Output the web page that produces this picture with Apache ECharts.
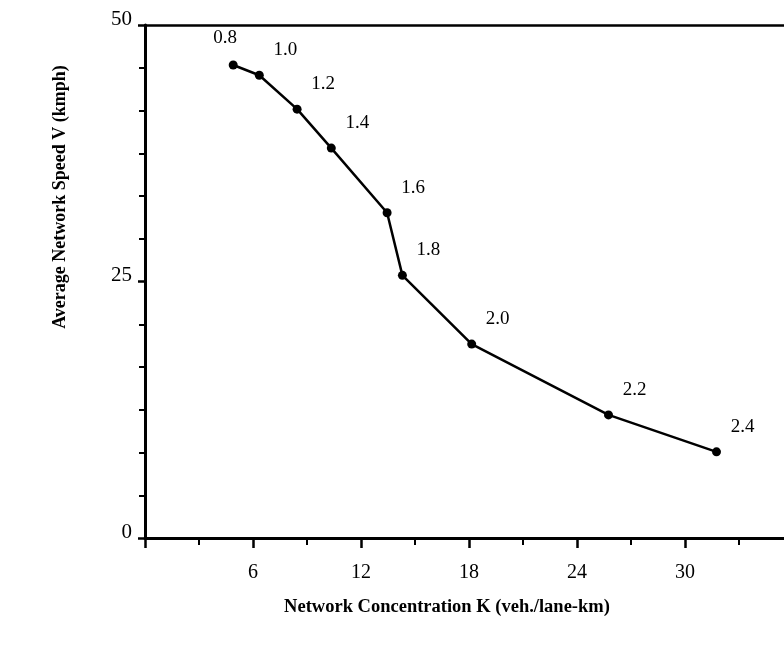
<!DOCTYPE html>
<html>
<head>
<meta charset="utf-8">
<script src="https://cdn.jsdelivr.net/npm/echarts@6/dist/echarts.min.js"></script>
<style>
html,body{margin:0;padding:0;background:#fff;}
#chart{width:784px;height:645px;}
</style>
</head>
<body>
<div id="chart"></div>
<script>
// Data
const concentrationK = [4.9, 6.35, 8.45, 10.35, 13.45, 14.3, 18.15, 25.75, 31.75];
const speedV = [46.1, 45.1, 41.8, 38.0, 31.7, 25.6, 18.9, 12.0, 8.4];
const pointLabels = ['0.8', '1.0', '1.2', '1.4', '1.6', '1.8', '2.0', '2.2', '2.4'];
const xMajorTicks = [0, 6, 12, 18, 24, 30];
const xMinorTicks = [3, 9, 15, 21, 27, 33];
const xTickLabels = [6, 12, 18, 24, 30];
const yTickLabels = [0, 25, 50];
const xTitle = 'Network Concentration K (veh./lane-km)';
const yTitle = 'Average Network Speed V (kmph)';

const serif = '"Liberation Serif", "DejaVu Serif", serif';
const chart = echarts.init(document.getElementById('chart'));
const X_MAX = 35.5;

const seriesData = concentrationK.map((k, i) => ({
  value: [k, speedV[i]],
  label: {
    show: true,
    formatter: pointLabels[i],
    position: 'inside',
    offset: i === 0 ? [-8, -27] : [26, -25],
    color: '#000',
    fontFamily: serif,
    fontSize: 19
  }
}));

chart.setOption({
  animation: false,
  backgroundColor: '#fff',
  grid: { left: 145, top: 25, right: 0, bottom: 107, containLabel: false },
  xAxis: [{
    type: 'value', position: 'bottom', min: 0, max: X_MAX,
    axisLine: { show: true, onZero: false, lineStyle: { color: '#000', width: 3 } },
    axisTick: { show: true, customValues: xMinorTicks, length: 7, lineStyle: { color: '#000', width: 2 } },
    splitLine: { show: false },
    axisLabel: { show: false }
  }, {
    type: 'value', position: 'bottom', offset: 0, min: 0, max: X_MAX,
    axisLine: { show: false, onZero: false },
    axisTick: { show: true, customValues: xMajorTicks, length: 10, lineStyle: { color: '#000', width: 2.5 } },
    splitLine: { show: false },
    axisLabel: {
      customValues: xTickLabels,
      margin: 25, color: '#000', fontFamily: serif, fontSize: 20,
      formatter: v => String(Math.round(v))
    }
  }, {
    type: 'value', position: 'top', min: 0, max: X_MAX,
    axisLine: { show: true, onZero: false, lineStyle: { color: '#000', width: 2.5 } },
    axisTick: { show: false }, axisLabel: { show: false }, splitLine: { show: false }
  }],
  yAxis: {
    type: 'value', min: 0, max: 50, interval: 25,
    axisLine: { show: true, onZero: false, lineStyle: { color: '#000', width: 3 } },
    axisTick: { show: true, length: 7, lineStyle: { color: '#000', width: 2.5 } },
    minorTick: { show: true, splitNumber: 6, length: 6, lineStyle: { color: '#000', width: 2 } },
    splitLine: { show: false },
    axisLabel: {
      margin: 13, color: '#000', fontFamily: serif, fontSize: 21,
      verticalAlign: 'bottom', lineHeight: 12,
      formatter: v => yTickLabels.indexOf(Math.round(v)) >= 0 ? String(Math.round(v)) : ''
    }
  },
  graphic: [
    {
      type: 'text', x: 447, y: 607,
      style: { text: xTitle, font: 'bold 18.5px ' + serif, fill: '#000', textAlign: 'center', textVerticalAlign: 'middle' }
    },
    {
      type: 'text', x: 60, y: 197, rotation: Math.PI / 2,
      style: { text: yTitle, font: 'bold 18px ' + serif, fill: '#000', textAlign: 'center', textVerticalAlign: 'middle' }
    }
  ],
  series: [{
    type: 'line',
    xAxisIndex: 0,
    data: seriesData,
    symbol: 'circle',
    symbolSize: 9,
    itemStyle: { color: '#000' },
    lineStyle: { color: '#000', width: 2.5 },
    clip: false
  }]
});
</script>
</body>
</html>
